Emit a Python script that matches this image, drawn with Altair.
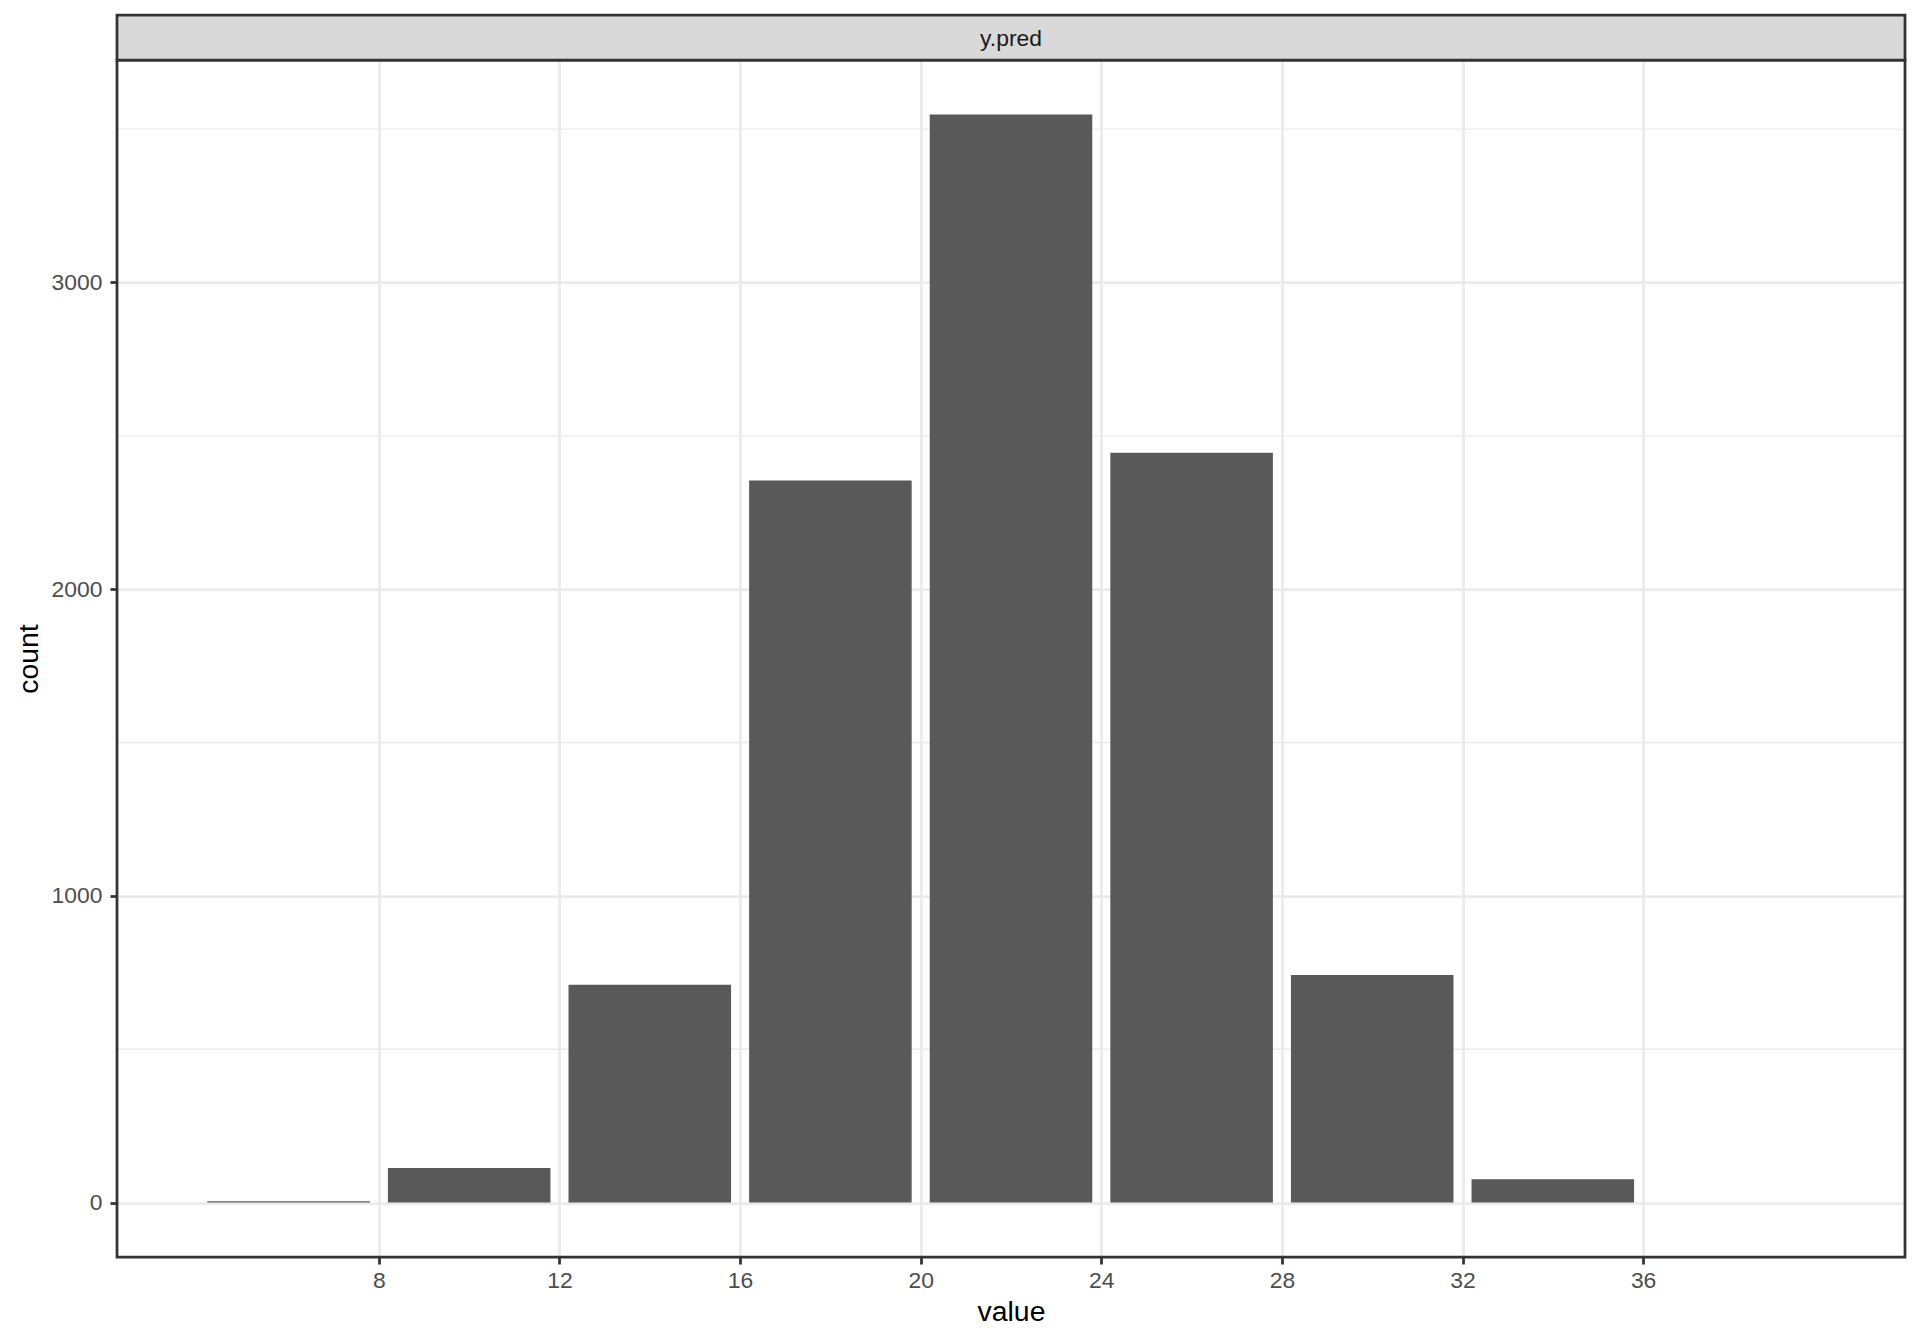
import altair as alt
import pandas as pd

# ---- data ----
bin_starts = [4, 8, 12, 16, 20, 24, 28, 32, 36]
bin_width = 4
counts = [4, 113, 710, 2354, 3548, 2445, 742, 76, 0]
x_ticks = [8, 12, 16, 20, 24, 28, 32, 36]
y_ticks = [0, 1000, 2000, 3000]
y_minor = [500, 1500, 2500, 3500]
panel_label = "y.pred"
x_title = "value"
y_title = "count"

# ---- layout / style ----
W, H = 1788, 1197
FONT = "Liberation Sans"
LW = 2.75
GRID = "#EBEBEB"
DARK = "#333333"

bars_df = pd.DataFrame({"start": bin_starts, "count": counts})
minor_df = pd.DataFrame({"minor": y_minor})
strip_df = pd.DataFrame({"panel": [panel_label]})

x_lo, x_hi = min(bin_starts), max(bin_starts) + bin_width
x_pad = 0.05 * (x_hi - x_lo)
y_hi = max(counts)
y_pad = 0.05 * y_hi
x_scale = alt.Scale(domain=[x_lo - x_pad, x_hi + x_pad], nice=False, zero=False)
y_scale = alt.Scale(domain=[-y_pad, y_hi + y_pad], nice=False, zero=False)

common_axis = dict(
    grid=True, gridColor=GRID, gridWidth=LW, domain=False,
    ticks=True, tickColor=DARK, tickWidth=LW, tickSize=7,
    labelColor="#4D4D4D", labelFontSize=22.9, labelFont=FONT,
    titleFont=FONT, titleFontSize=28.4, titleColor="#000000",
    titleFontWeight="normal", labelOverlap=False, labelFlush=False,
    format="d",
)

x_axis = alt.Axis(values=x_ticks, labelPadding=5, title=x_title,
                  titleBaseline="alphabetic", titleAlign="center",
                  titleX=W / 2, titleY=63, **common_axis)
y_axis = alt.Axis(values=y_ticks, labelPadding=8, title=y_title,
                  titleAngle=270, titleBaseline="alphabetic", titleAlign="center",
                  titleX=-80, titleY=H / 2, **common_axis)

minor = alt.Chart(minor_df).mark_rule(color=GRID, strokeWidth=LW / 2).encode(
    y=alt.Y("minor:Q", scale=y_scale, axis=y_axis),
    x=alt.value(0),
    x2=alt.value(W),
)

bars = alt.Chart(bars_df).transform_calculate(
    x0=f"datum.start + 0.05 * {bin_width}",
    x1=f"datum.start + 0.95 * {bin_width}",
    base="0",
).mark_rect(color="#595959").encode(
    x=alt.X("x0:Q", scale=x_scale, axis=x_axis),
    x2="x1:Q",
    y=alt.Y("count:Q", scale=y_scale, axis=y_axis),
    y2="base:Q",
)

border = alt.Chart(strip_df).mark_rect(
    fillOpacity=0, stroke=DARK, strokeWidth=LW
).encode(x=alt.value(0), x2=alt.value(W), y=alt.value(0), y2=alt.value(H))

strip = alt.Chart(strip_df).mark_rect(
    fill="#D9D9D9", stroke=DARK, strokeWidth=LW
).encode(x=alt.value(0), x2=alt.value(W), y=alt.value(-45), y2=alt.value(0))

strip_text = alt.Chart(strip_df).mark_text(
    font=FONT, fontSize=22.9, color="#1A1A1A", baseline="alphabetic", align="center"
).encode(x=alt.value(W / 2), y=alt.value(-14.3), text="panel:N")

chart = alt.layer(minor, bars, border, strip, strip_text).properties(
    width=W, height=H,
    autosize=alt.AutoSizeParams(type="none"),
    padding={"left": 109, "top": 52, "right": 6, "bottom": 72},
    background="#FFFFFF",
).configure_view(strokeWidth=0)

chart.save("out.html", embed_options={"renderer": "svg", "actions": False})
